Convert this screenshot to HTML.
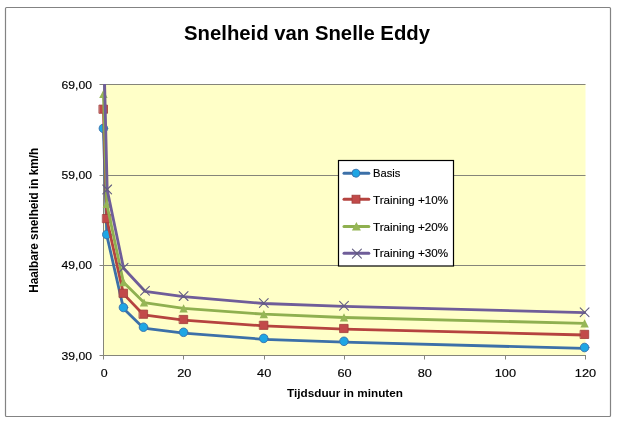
<!DOCTYPE html>
<html><head><meta charset="utf-8">
<style>
html,body{margin:0;padding:0;background:#fff;width:618px;height:422px;overflow:hidden;}
svg{display:block;will-change:transform;}
text{font-family:"Liberation Sans", sans-serif;fill:#000;}
.th{stroke:#000;stroke-width:0.15px;}
</style></head>
<body>
<svg width="618" height="422" viewBox="0 0 618 422">
<defs>
<clipPath id="pc"><rect x="0" y="84" width="618" height="338"/></clipPath>
</defs>
<rect x="5.5" y="7.5" width="605" height="409" rx="1" fill="#fff" stroke="#838383" stroke-width="1.2"/>
<text x="184" y="39.7" font-size="20.5" font-weight="bold" textLength="246" lengthAdjust="spacingAndGlyphs">Snelheid van Snelle Eddy</text>
<rect x="103" y="84" width="482.5" height="271.5" fill="#FFFFC8"/>
<g stroke="#85857A" stroke-width="1" fill="none">
<line x1="99.5" y1="84.5" x2="585.5" y2="84.5"/>
<line x1="99.5" y1="175.5" x2="585.5" y2="175.5"/>
<line x1="99.5" y1="265.5" x2="585.5" y2="265.5"/>
<line x1="99.5" y1="355.5" x2="585.5" y2="355.5"/>
<line x1="103.5" y1="84" x2="103.5" y2="359.5"/>
<line x1="183.5" y1="355" x2="183.5" y2="359.5"/>
<line x1="264.5" y1="355" x2="264.5" y2="359.5"/>
<line x1="344.5" y1="355" x2="344.5" y2="359.5"/>
<line x1="424.5" y1="355" x2="424.5" y2="359.5"/>
<line x1="505.5" y1="355" x2="505.5" y2="359.5"/>
<line x1="585.5" y1="355" x2="585.5" y2="359.5"/>
</g>
<g class="th" font-size="11.2" text-anchor="end">
<text x="92" y="88.8" textLength="30.5" lengthAdjust="spacingAndGlyphs">69,00</text>
<text x="92" y="179" textLength="30.5" lengthAdjust="spacingAndGlyphs">59,00</text>
<text x="92" y="269" textLength="30.5" lengthAdjust="spacingAndGlyphs">49,00</text>
<text x="92" y="359.6" textLength="30.5" lengthAdjust="spacingAndGlyphs">39,00</text>
</g>
<g class="th" font-size="11.2" text-anchor="middle">
<text x="104.2" y="377" textLength="6.9" lengthAdjust="spacingAndGlyphs">0</text>
<text x="184.3" y="377" textLength="14.2" lengthAdjust="spacingAndGlyphs">20</text>
<text x="264.2" y="377" textLength="14.2" lengthAdjust="spacingAndGlyphs">40</text>
<text x="344.5" y="377" textLength="14.2" lengthAdjust="spacingAndGlyphs">60</text>
<text x="424.8" y="377" textLength="14.2" lengthAdjust="spacingAndGlyphs">80</text>
<text x="505.4" y="377" textLength="21.3" lengthAdjust="spacingAndGlyphs">100</text>
<text x="585.5" y="377" textLength="21.3" lengthAdjust="spacingAndGlyphs">120</text>
</g>
<text x="287" y="396.8" font-size="11.8" font-weight="bold" textLength="116" lengthAdjust="spacingAndGlyphs">Tijdsduur in minuten</text>
<text transform="translate(38.4,292.8) rotate(-90)" font-size="12.2" font-weight="bold" textLength="145" lengthAdjust="spacingAndGlyphs">Haalbare snelheid in km/h</text>
<g clip-path="url(#pc)" fill="none" stroke-width="2.8" stroke-linejoin="round" stroke-linecap="round">
<polyline stroke="#3C70A8" points="103.40,129.30 106.81,235.40 123.45,308.40 143.50,328.10 183.60,333.20 263.80,339.30 344.00,342.20 584.60,348.40"/>
<g fill="#1EA6E4" stroke="#3A70AC" stroke-width="0.9"><circle cx="103.40" cy="128.40" r="4.3"/><circle cx="106.81" cy="234.50" r="4.3"/><circle cx="123.45" cy="307.50" r="4.3"/><circle cx="143.50" cy="327.20" r="4.3"/><circle cx="183.60" cy="332.30" r="4.3"/><circle cx="263.80" cy="338.40" r="4.3"/><circle cx="344.00" cy="341.30" r="4.3"/><circle cx="584.60" cy="347.50" r="4.3"/></g>
<polyline stroke="#B5433F" points="103.40,109.80 106.81,219.20 123.45,293.90 143.50,314.80 183.60,320.10 263.80,325.90 344.00,329.10 584.60,335.00"/>
<g fill="#C24A4A" stroke="#A03C3A" stroke-width="0.8"><rect x="99.30" y="105.10" width="8.2" height="8.2"/><rect x="102.71" y="214.50" width="8.2" height="8.2"/><rect x="119.35" y="289.20" width="8.2" height="8.2"/><rect x="139.40" y="310.10" width="8.2" height="8.2"/><rect x="179.50" y="315.40" width="8.2" height="8.2"/><rect x="259.70" y="321.20" width="8.2" height="8.2"/><rect x="339.90" y="324.40" width="8.2" height="8.2"/><rect x="580.50" y="330.30" width="8.2" height="8.2"/></g>
<polyline stroke="#8FB050" points="103.40,93.90 106.81,204.10 123.45,282.30 144.00,302.60 183.60,308.40 263.80,314.20 344.00,317.50 584.60,323.40"/>
<g fill="#96B656" stroke="none"><path d="M103.40,89.70L107.60,97.90L99.20,97.90Z"/><path d="M106.81,199.90L111.01,208.10L102.61,208.10Z"/><path d="M123.45,278.10L127.65,286.30L119.25,286.30Z"/><path d="M144.00,298.40L148.20,306.60L139.80,306.60Z"/><path d="M183.60,304.20L187.80,312.40L179.40,312.40Z"/><path d="M263.80,310.00L268.00,318.20L259.60,318.20Z"/><path d="M344.00,313.30L348.20,321.50L339.80,321.50Z"/><path d="M584.60,319.20L588.80,327.40L580.40,327.40Z"/></g>
<polyline stroke="#6F5D99" points="103.40,34.10 107.20,189.90 123.60,268.30 145.00,291.30 183.60,296.60 263.80,303.50 344.00,306.30 584.60,312.70"/>
<g stroke="#625C80" stroke-width="1.1" fill="none"><path d="M102.80,185.00L111.60,193.80M111.60,185.00L102.80,193.80"/><path d="M119.20,263.40L128.00,272.20M128.00,263.40L119.20,272.20"/><path d="M140.60,286.40L149.40,295.20M149.40,286.40L140.60,295.20"/><path d="M179.20,291.70L188.00,300.50M188.00,291.70L179.20,300.50"/><path d="M259.40,298.60L268.20,307.40M268.20,298.60L259.40,307.40"/><path d="M339.60,301.40L348.40,310.20M348.40,301.40L339.60,310.20"/><path d="M580.20,307.80L589.00,316.60M589.00,307.80L580.20,316.60"/></g>
</g>
<rect x="338.5" y="160.5" width="115" height="105.5" fill="#fff" stroke="#000" stroke-width="1.2"/>
<g stroke-width="3" stroke-linecap="round">
<line x1="344" y1="173.2" x2="368.8" y2="173.2" stroke="#3C70A8"/>
<circle cx="356" cy="173.2" r="4" fill="#1EA6E4" stroke="#3A70AC" stroke-width="0.9"/>
<line x1="344" y1="199.2" x2="368.8" y2="199.2" stroke="#B5433F"/>
<rect x="352" y="195.2" width="8" height="8" fill="#C24A4A" stroke="#A03C3A" stroke-width="0.8"/>
<line x1="344" y1="226.4" x2="368.8" y2="226.4" stroke="#8FB050"/>
<path d="M356.4,222 L360.9,230.6 H351.9Z" fill="#96B656" stroke="none"/>
<line x1="344" y1="253.2" x2="368.8" y2="253.2" stroke="#6F5D99"/>
<path d="M352.4,249.2l9,9m0,-9l-9,9" stroke="#625C80" stroke-width="1.1"/>
</g>
<g class="th" font-size="11.2">
<text x="373" y="177">Basis</text>
<text x="373" y="204.2" textLength="75" lengthAdjust="spacingAndGlyphs">Training +10%</text>
<text x="373" y="231" textLength="75" lengthAdjust="spacingAndGlyphs">Training +20%</text>
<text x="373" y="257.4" textLength="75" lengthAdjust="spacingAndGlyphs">Training +30%</text>
</g>
</svg>
</body></html>
